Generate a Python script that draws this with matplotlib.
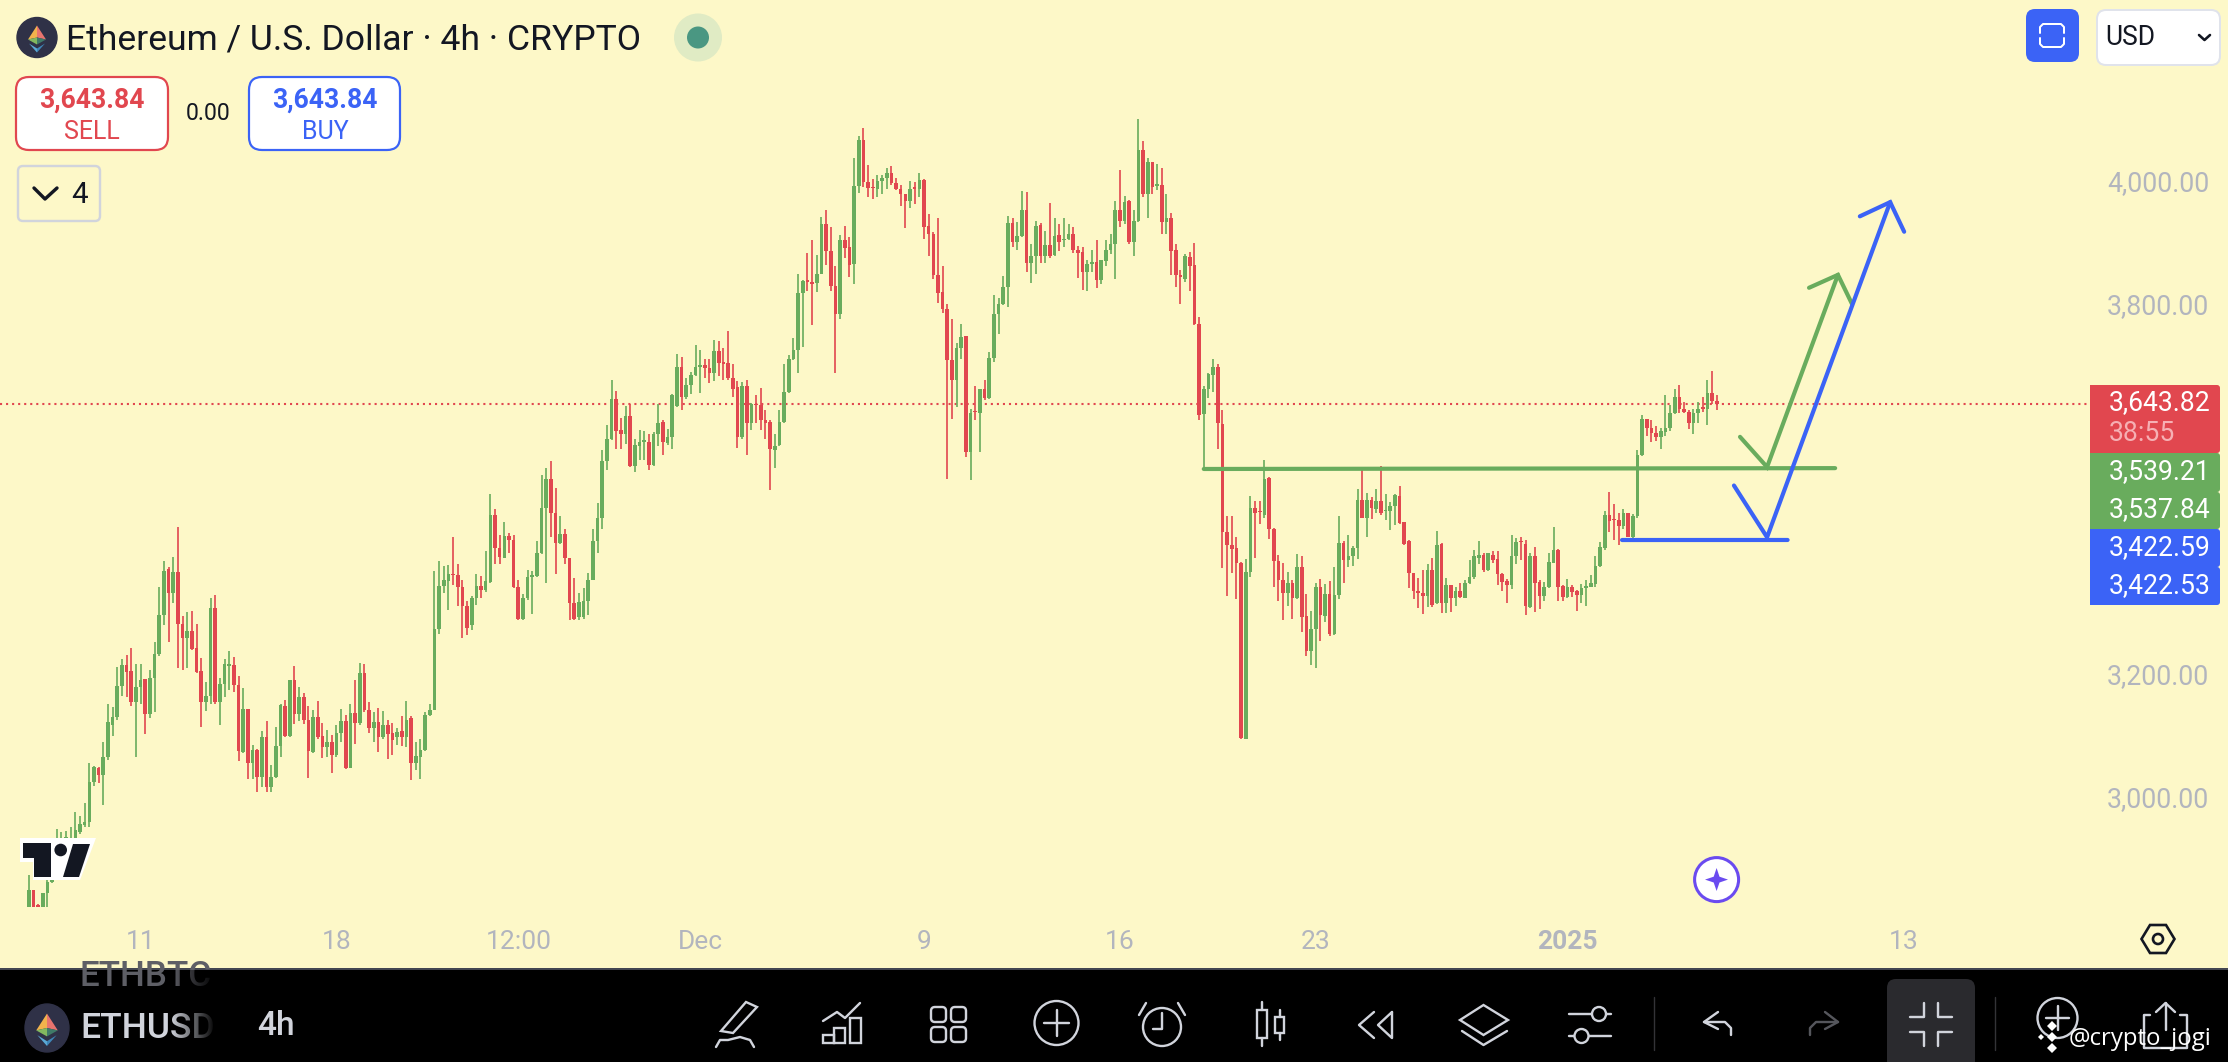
import numpy as np
import matplotlib
matplotlib.use("Agg")
import matplotlib.pyplot as plt
from matplotlib.patches import Circle, Ellipse, FancyBboxPatch, Polygon, Rectangle
from matplotlib.transforms import ScaledTranslation

plt.rcParams["font.family"] = ["Roboto", "DejaVu Sans"]

# 1. DATA - ETHUSD 4h candles
opens = [
    2827, 2854, 2830, 2827, 2849, 2868, 2898, 2930, 2930, 2935,
    2938, 2949, 2960, 2965, 3030, 3053, 3041, 3070, 3122, 3135,
    3185, 3219, 3210, 3160, 3184, 3197, 3140, 3198, 3237, 3301,
    3375, 3337, 3371, 3286, 3263, 3275, 3248, 3210, 3160, 3169,
    3312, 3160, 3189, 3218, 3219, 3187, 3079, 3148, 3060, 3081,
    3038, 3103, 3021, 3038, 3088, 3153, 3104, 3195, 3140, 3168,
    3131, 3079, 3135, 3104, 3086, 3095, 3073, 3110, 3129, 3053,
    3142, 3125, 3206, 3147, 3117, 3127, 3103, 3122, 3109, 3102,
    3113, 3102, 3133, 3060, 3071, 3081, 3138, 3147, 3278, 3348,
    3356, 3368, 3366, 3346, 3315, 3284, 3329, 3348, 3341, 3355,
    3463, 3410, 3394, 3429, 3423, 3347, 3295, 3328, 3363, 3364,
    3401, 3474, 3521, 3466, 3417, 3433, 3394, 3321, 3298, 3298,
    3324, 3358, 3421, 3458, 3551, 3586, 3651, 3601, 3594, 3624,
    3543, 3575, 3582, 3582, 3544, 3595, 3614, 3580, 3590, 3640,
    3703, 3654, 3674, 3690, 3704, 3707, 3702, 3693, 3729, 3710,
    3710, 3686, 3671, 3590, 3673, 3613, 3644, 3641, 3617, 3614,
    3569, 3577, 3614, 3663, 3716, 3731, 3823, 3844, 3841, 3839,
    3855, 3936, 3892, 3835, 3790, 3910, 3898, 3871, 3997, 4072,
    4003, 3995, 3992, 4005, 4011, 4018, 4002, 3992, 3984, 3973,
    3995, 3992, 4007, 3932, 3920, 3852, 3825, 3797, 3714, 3682,
    3735, 3753, 3566, 3632, 3629, 3667, 3653, 3718, 3790, 3805,
    3833, 3937, 3906, 3916, 3959, 3873, 3884, 3934, 3884, 3901,
    3885, 3917, 3909, 3911, 3920, 3893, 3890, 3858, 3871, 3874,
    3844, 3876, 3893, 3903, 3958, 3941, 3973, 3907, 3940, 4056,
    3985, 4036, 3998, 3999, 3939, 3946, 3893, 3852, 3847, 3882,
    3869, 3773, 3627, 3667, 3690, 3703, 3611, 3436, 3415, 3409,
    3386, 3100, 3370, 3474, 3470, 3463, 3523, 3441, 3389, 3358,
    3336, 3352, 3328, 3379, 3299, 3243, 3278, 3347, 3299, 3335,
    3270, 3333, 3418, 3390, 3396, 3409, 3488, 3459, 3488, 3473,
    3486, 3469, 3469, 3477, 3494, 3451, 3421, 3369, 3340, 3336,
    3332, 3374, 3320, 3416, 3320, 3350, 3328, 3340, 3329, 3352,
    3362, 3394, 3399, 3374, 3399, 3391, 3367, 3356, 3349, 3396,
    3420, 3416, 3314, 3396, 3355, 3332, 3346, 3386, 3407, 3348,
    3330, 3347, 3339, 3333, 3344, 3347, 3351, 3380, 3410, 3463,
    3457, 3455, 3446, 3466, 3428, 3461, 3560, 3619, 3604, 3596,
    3590, 3598, 3605, 3628, 3654, 3636, 3631, 3612, 3628, 3639,
    3635, 3662, 3649,
]
highs = [
    2879, 2855, 2831, 2850, 2870, 2898, 2954, 2948, 2950, 2956,
    2981, 2974, 2995, 3060, 3056, 3054, 3095, 3156, 3151, 3217,
    3229, 3236, 3248, 3222, 3221, 3197, 3211, 3257, 3347, 3389,
    3378, 3395, 3444, 3299, 3306, 3308, 3286, 3231, 3192, 3329,
    3334, 3199, 3229, 3243, 3233, 3202, 3183, 3148, 3090, 3083,
    3113, 3129, 3057, 3119, 3156, 3163, 3195, 3218, 3184, 3174,
    3153, 3146, 3162, 3126, 3114, 3106, 3122, 3148, 3138, 3156,
    3196, 3223, 3221, 3160, 3144, 3150, 3145, 3130, 3126, 3117,
    3137, 3162, 3137, 3095, 3100, 3144, 3156, 3373, 3389, 3380,
    3382, 3428, 3384, 3358, 3323, 3331, 3367, 3364, 3405, 3498,
    3473, 3431, 3452, 3434, 3431, 3358, 3335, 3374, 3373, 3421,
    3528, 3539, 3550, 3507, 3461, 3441, 3394, 3361, 3336, 3344,
    3369, 3441, 3483, 3568, 3609, 3682, 3664, 3620, 3640, 3644,
    3586, 3601, 3600, 3594, 3598, 3644, 3618, 3603, 3660, 3725,
    3719, 3685, 3696, 3739, 3731, 3717, 3717, 3747, 3745, 3734,
    3762, 3709, 3681, 3679, 3682, 3645, 3658, 3670, 3634, 3617,
    3594, 3633, 3708, 3723, 3751, 3855, 3845, 3888, 3909, 3885,
    3947, 3959, 3930, 3867, 3917, 3932, 3914, 4042, 4078, 4091,
    4031, 4008, 4015, 4015, 4026, 4030, 4011, 3999, 3984, 4006,
    4004, 4018, 4008, 3951, 3923, 3946, 3867, 3805, 3781, 3743,
    3774, 3754, 3635, 3673, 3667, 3682, 3728, 3821, 3815, 3851,
    3949, 3946, 3939, 3989, 3987, 3903, 3941, 3937, 3924, 3969,
    3946, 3935, 3945, 3935, 3931, 3900, 3898, 3877, 3894, 3910,
    3877, 3910, 3919, 3973, 4023, 3981, 3975, 3958, 4106, 4070,
    4042, 4037, 4033, 4026, 3985, 3953, 3903, 3861, 3887, 3890,
    3904, 3784, 3672, 3693, 3717, 3708, 3634, 3462, 3461, 3427,
    3387, 3392, 3494, 3486, 3486, 3552, 3525, 3442, 3398, 3386,
    3370, 3358, 3400, 3396, 3335, 3308, 3352, 3359, 3351, 3356,
    3379, 3462, 3421, 3430, 3413, 3505, 3536, 3499, 3493, 3505,
    3543, 3497, 3485, 3498, 3510, 3451, 3423, 3369, 3361, 3374,
    3384, 3393, 3437, 3418, 3361, 3350, 3347, 3352, 3358, 3390,
    3406, 3421, 3401, 3402, 3405, 3404, 3369, 3360, 3430, 3425,
    3427, 3423, 3402, 3412, 3358, 3355, 3402, 3443, 3408, 3350,
    3359, 3349, 3342, 3351, 3357, 3366, 3397, 3420, 3469, 3501,
    3481, 3466, 3473, 3467, 3464, 3569, 3626, 3619, 3617, 3608,
    3604, 3658, 3642, 3667, 3674, 3647, 3633, 3636, 3647, 3654,
    3682, 3697, 3658,
]
lows = [
    2827, 2827, 2827, 2827, 2827, 2865, 2892, 2920, 2925, 2925,
    2930, 2946, 2957, 2957, 3023, 3028, 2992, 3066, 3104, 3131,
    3169, 3168, 3153, 3071, 3157, 3107, 3133, 3144, 3235, 3284,
    3257, 3320, 3214, 3212, 3214, 3244, 3206, 3119, 3145, 3157,
    3157, 3122, 3167, 3179, 3176, 3063, 3076, 3034, 3034, 3014,
    3021, 3014, 3014, 3037, 3071, 3102, 3103, 3124, 3129, 3124,
    3037, 3076, 3100, 3068, 3071, 3044, 3070, 3095, 3050, 3052,
    3091, 3122, 3144, 3110, 3095, 3078, 3100, 3067, 3074, 3090,
    3088, 3086, 3033, 3049, 3034, 3080, 3137, 3146, 3270, 3336,
    3309, 3349, 3315, 3263, 3268, 3276, 3317, 3329, 3338, 3352,
    3383, 3383, 3393, 3402, 3344, 3293, 3293, 3325, 3303, 3363,
    3400, 3352, 3428, 3367, 3416, 3383, 3293, 3293, 3293, 3294,
    3301, 3357, 3401, 3440, 3537, 3585, 3570, 3571, 3579, 3541,
    3533, 3553, 3552, 3537, 3543, 3575, 3560, 3577, 3571, 3639,
    3634, 3652, 3659, 3689, 3661, 3685, 3678, 3681, 3689, 3682,
    3682, 3655, 3572, 3586, 3560, 3601, 3612, 3601, 3587, 3504,
    3540, 3575, 3613, 3661, 3714, 3693, 3736, 3827, 3772, 3825,
    3854, 3869, 3827, 3694, 3782, 3880, 3850, 3838, 3986, 3996,
    3979, 3976, 3980, 3984, 3992, 3999, 3991, 3964, 3929, 3961,
    3968, 3980, 3911, 3884, 3846, 3808, 3791, 3521, 3619, 3639,
    3716, 3558, 3520, 3617, 3565, 3650, 3652, 3712, 3757, 3804,
    3800, 3898, 3894, 3914, 3858, 3839, 3855, 3873, 3873, 3881,
    3884, 3891, 3898, 3909, 3889, 3848, 3829, 3827, 3857, 3832,
    3838, 3868, 3887, 3846, 3930, 3936, 3903, 3884, 3939, 3980,
    3946, 3985, 3991, 3919, 3920, 3852, 3834, 3806, 3842, 3826,
    3772, 3618, 3537, 3653, 3663, 3570, 3377, 3331, 3369, 3326,
    3100, 3099, 3363, 3393, 3448, 3459, 3424, 3347, 3324, 3293,
    3316, 3294, 3327, 3274, 3235, 3219, 3214, 3258, 3290, 3267,
    3269, 3327, 3353, 3378, 3381, 3391, 3458, 3428, 3456, 3467,
    3463, 3455, 3438, 3447, 3448, 3415, 3344, 3326, 3312, 3302,
    3313, 3314, 3319, 3304, 3304, 3306, 3316, 3328, 3328, 3351,
    3360, 3384, 3370, 3373, 3385, 3349, 3339, 3320, 3343, 3384,
    3390, 3301, 3312, 3305, 3310, 3323, 3345, 3385, 3324, 3324,
    3329, 3330, 3308, 3320, 3316, 3346, 3347, 3379, 3406, 3436,
    3423, 3415, 3440, 3427, 3420, 3458, 3559, 3591, 3581, 3583,
    3571, 3591, 3600, 3627, 3629, 3629, 3603, 3594, 3613, 3631,
    3609, 3643, 3633,
]
closes = [
    2854, 2827, 2827, 2849, 2868, 2881, 2930, 2938, 2940, 2938,
    2951, 2962, 2965, 3030, 3054, 3041, 3071, 3127, 3136, 3185,
    3219, 3209, 3160, 3184, 3195, 3140, 3198, 3237, 3301, 3373,
    3337, 3371, 3286, 3263, 3275, 3245, 3208, 3160, 3169, 3312,
    3160, 3189, 3221, 3222, 3187, 3080, 3148, 3060, 3081, 3038,
    3103, 3021, 3038, 3088, 3155, 3104, 3195, 3140, 3168, 3131,
    3080, 3135, 3103, 3087, 3095, 3073, 3109, 3129, 3052, 3142,
    3125, 3207, 3146, 3117, 3127, 3103, 3122, 3107, 3098, 3111,
    3103, 3131, 3060, 3072, 3081, 3138, 3147, 3278, 3348, 3358,
    3367, 3366, 3346, 3315, 3280, 3329, 3348, 3342, 3356, 3463,
    3410, 3395, 3429, 3423, 3346, 3294, 3328, 3363, 3366, 3401,
    3474, 3521, 3466, 3417, 3433, 3394, 3321, 3294, 3322, 3324,
    3358, 3421, 3458, 3551, 3586, 3651, 3600, 3594, 3624, 3543,
    3577, 3582, 3585, 3544, 3595, 3613, 3582, 3590, 3658, 3703,
    3654, 3674, 3690, 3704, 3707, 3702, 3693, 3729, 3710, 3709,
    3686, 3668, 3590, 3673, 3613, 3644, 3641, 3617, 3613, 3571,
    3575, 3614, 3663, 3716, 3731, 3823, 3843, 3842, 3838, 3855,
    3936, 3892, 3835, 3790, 3910, 3897, 3869, 3997, 4072, 4003,
    3994, 3994, 4005, 4011, 4018, 4002, 3992, 3984, 3973, 3993,
    3993, 4007, 3931, 3920, 3852, 3824, 3797, 3714, 3682, 3735,
    3752, 3566, 3629, 3630, 3667, 3653, 3718, 3790, 3805, 3833,
    3937, 3906, 3916, 3959, 3873, 3884, 3933, 3884, 3901, 3884,
    3916, 3907, 3911, 3920, 3893, 3889, 3858, 3871, 3874, 3844,
    3877, 3893, 3903, 3958, 3941, 3972, 3907, 3940, 4056, 3985,
    4037, 3995, 4000, 3939, 3946, 3892, 3852, 3850, 3883, 3868,
    3773, 3626, 3667, 3692, 3703, 3612, 3436, 3415, 3408, 3386,
    3101, 3370, 3474, 3467, 3468, 3522, 3440, 3389, 3358, 3336,
    3353, 3328, 3379, 3298, 3243, 3278, 3347, 3301, 3335, 3270,
    3333, 3418, 3390, 3397, 3410, 3488, 3459, 3488, 3474, 3486,
    3466, 3471, 3478, 3496, 3450, 3416, 3369, 3339, 3336, 3332,
    3374, 3317, 3415, 3320, 3350, 3328, 3340, 3330, 3352, 3362,
    3396, 3398, 3374, 3401, 3390, 3367, 3355, 3349, 3397, 3420,
    3419, 3316, 3396, 3353, 3332, 3346, 3387, 3406, 3347, 3330,
    3346, 3338, 3333, 3344, 3348, 3352, 3380, 3412, 3463, 3454,
    3455, 3446, 3466, 3428, 3462, 3561, 3619, 3604, 3596, 3590,
    3600, 3605, 3628, 3654, 3636, 3630, 3612, 3628, 3636, 3636,
    3662, 3649, 3644,
]

# osa x = index svicky (6 svicek na den)
date_ticks = [24, 66, 105, 144, 192, 234, 276, 330, 402]
date_labels = ["11", "18", "12:00", "Dec", "9", "16", "23", "2025", "13"]
price_ticks = [3000, 3200, 3800, 4000]
price_tick_labels = ["3,000.00", "3,200.00", "3,800.00", "4,000.00"]

last_price = 3643.82
green_level_x = [252, 387.4]
green_level_y = [3537.84, 3539.21]
blue_level_x = [341.7, 377.2]
blue_level_y = [3422.53, 3422.59]
blue_path_x = [365.7, 372.8, 399.2]
blue_path_y = [3511, 3427, 3971]
blue_head_x = [392.7, 399.2, 402.2]
blue_head_y = [3948, 3971, 3923]
green_path_x = [367, 372.8, 388]
green_path_y = [3590, 3541, 3853]
green_head_x = [381.8, 388, 391]
green_head_y = [3832, 3853, 3806]

tag_labels = ["3,643.82", "3,539.21", "3,537.84", "3,422.59", "3,422.53"]

BG = "#FDF8C8"
GREEN = "#69AC5D"
RED = "#E1474F"
BLUE = "#3B63F6"
INK = "#131722"
GREY = "#B2B5BE"
ICON = "#D1D4DC"

W, H = 2228, 1062
CHART_H = 968

fig = plt.figure(figsize=(W / 100, H / 100), dpi=100, facecolor="black")

# 2. CANDLES
ax = fig.add_axes([0, 1 - CHART_H / H, 1, CHART_H / H], facecolor=BG)
x_px0, x_step = 28.7, 4.663
ax.set_xlim(-x_px0 / x_step, (W - x_px0) / x_step)
ax.set_ylim(last_price - (CHART_H - 403.7) / 0.616, last_price + 403.7 / 0.616)

o = np.array(opens)
h = np.array(highs)
l = np.array(lows)
c = np.array(closes)
idx = np.arange(len(o))
up = c >= o
cols = np.where(up, GREEN, RED)

ax.axhline(last_price, xmin=0, xmax=2090 / W, color=RED, lw=1.5,
           linestyle=(0, (1, 1.9)), zorder=1)
ax.vlines(idx, l, h, colors=cols, lw=1.2, zorder=2)
ax.bar(idx, np.maximum(np.abs(c - o), 2), bottom=np.minimum(o, c), width=0.78,
       color=cols, linewidth=0, zorder=3)

# rucne kreslene cary a sipky
line_kw = dict(lw=3.0, solid_capstyle="round", solid_joinstyle="miter", zorder=4)
ax.plot(green_level_x, green_level_y, color=GREEN, **line_kw)
ax.plot(green_path_x, green_path_y, color=GREEN, **line_kw)
ax.plot(green_head_x, green_head_y, color=GREEN, **line_kw)
ax.plot(blue_level_x, blue_level_y, color=BLUE, **line_kw)
ax.plot(blue_path_x, blue_path_y, color=BLUE, **line_kw)
ax.plot(blue_head_x, blue_head_y, color=BLUE, **line_kw)

for s in ax.spines.values():
    s.set_visible(False)
ax.set_xticks(date_ticks, date_labels)
ax.tick_params(axis="x", length=0, pad=-27.5, labelsize=19, labelcolor=GREY)
for t, lab in zip(ax.get_xticklabels(), date_labels):
    if lab == "2025":
        t.set_fontweight("bold")
ax.yaxis.tick_right()
ax.set_yticks(price_ticks, price_tick_labels)
ax.tick_params(axis="y", length=0, pad=-87, labelsize=19.2, labelcolor=GREY)
shift = ScaledTranslation(0, 3.5 / 100, fig.dpi_scale_trans)
for t in ax.get_yticklabels():
    t.set_transform(t.get_transform() + shift)

# 3. UI LAYER in pixels
ui = fig.add_axes([0, 0, 1, 1], facecolor="none")
ui.set_xlim(0, W)
ui.set_ylim(H, 0)
ui.axis("off")


def label(x, cy, s, em, color=INK, ha="left", weight="normal", **kw):
    # em v pixelech, cy = stred velkych pismen
    return ui.text(x, cy + 0.355 * em, s, fontsize=em * 0.72, color=color, ha=ha,
                   va="baseline", fontweight=weight, **kw)


def box(x0, y0, x1, y1, r, face, edge="none", lw=0, z=5):
    p = FancyBboxPatch((x0, y0), x1 - x0, y1 - y0, boxstyle=f"round,pad=0,rounding_size={r}",
                       facecolor=face, edgecolor=edge, linewidth=lw * 0.72, zorder=z)
    ui.add_patch(p)
    return p


def stroke(xs, ys, color=ICON, lw=2.4, z=8):
    ui.plot(xs, ys, color=color, lw=lw * 0.72, solid_capstyle="round",
            solid_joinstyle="round", zorder=z)


def eth_logo(cx, cy, rx, ry):
    ui.add_patch(Ellipse((cx, cy), 2 * rx, 2 * ry, color="#2F3147", zorder=6))
    k = ry / 20
    parts = [
        ([(0, -12), (-9, 2), (0, 0)], "#F2B34C"),
        ([(0, -12), (9, 2), (0, 0)], "#E8746E"),
        ([(-9, 2), (0, 0), (0, 7)], "#83B85F"),
        ([(9, 2), (0, 0), (0, 7)], "#3F7A68"),
        ([(-8, 6), (0, 11), (0, 15)], "#5AA9D6"),
        ([(8, 6), (0, 11), (0, 15)], "#3F86B8"),
    ]
    for pts, col in parts:
        ui.add_patch(Polygon([(cx + a * k, cy + b * k) for a, b in pts], color=col, lw=0, zorder=7))


# hlavicka
eth_logo(37, 37.5, 20, 20)
label(66, 37, "Ethereum / U.S. Dollar · 4h · CRYPTO", 35.5)
ui.add_patch(Circle((698, 37.5), 24, color="#E0EBC4", lw=0, zorder=5))
ui.add_patch(Circle((698, 37.5), 11, color="#4A9782", lw=0, zorder=6))

box(16, 77, 168, 150, 13, "white", RED, 2.2)
label(92, 98, "3,643.84", 26.5, RED, "center", "bold", zorder=6)
label(92, 130, "SELL", 25, RED, "center", zorder=6)
label(208, 112, "0.00", 23, INK, "center")
box(249, 77, 400, 150, 13, "white", BLUE, 2.2)
label(325, 98, "3,643.84", 26.5, BLUE, "center", "bold", zorder=6)
label(325, 130, "BUY", 25, BLUE, "center", zorder=6)

box(18, 166, 100, 221, 5, BG, "#D1D4DC", 2.4)
stroke([34, 45, 57], [188, 199, 188], INK, 3.4)
label(80, 193, "4", 29.5, INK, "center", zorder=6)

# vpravo nahore
box(2026, 9, 2079, 62, 9, BLUE)
for xs, ys in [([2040, 2040, 2043, 2061, 2064, 2064], [33, 27, 24, 24, 27, 33]),
               ([2040, 2040, 2043, 2061, 2064, 2064], [38, 44, 47, 47, 44, 38])]:
    stroke(xs, ys, "white", 2)
box(2097, 10, 2220, 65, 9, "white", "#E0E3EB", 2)
label(2105, 36, "USD", 26.5, INK, zorder=6)
stroke([2199, 2204.5, 2210], [35, 40, 35], INK, 2.6)

# cenove stitky
tag_colors = [RED, GREEN, GREEN, BLUE, BLUE]
tag_tops = [385, 453, 492, 529, 567]
tag_bottoms = [453, 492, 529, 567, 605]
tag_centers = [401, 470, 508, 546, 584]
for lab, col, y0, y1, cy in zip(tag_labels, tag_colors, tag_tops, tag_bottoms, tag_centers):
    ui.add_patch(FancyBboxPatch((2090, y0), 130, y1 - y0, boxstyle="round,pad=0,rounding_size=3",
                                facecolor=col, edgecolor="none", zorder=5))
    ui.add_patch(Rectangle((2090, y0), 8, y1 - y0, facecolor=col, edgecolor="none", zorder=5))
    label(2109, cy, lab, 26.5, "white", zorder=6)
label(2109, 432, "38:55", 26.5, "#F6B0B4", zorder=6)

# TV logo
ui.add_patch(Polygon([(20, 838), (96, 838), (80, 880), (33, 880), (33, 862), (20, 862)],
                     color="white", lw=0, zorder=6))
ui.add_patch(Polygon([(23, 843), (51, 843), (51, 877), (34, 877), (34, 858), (23, 858)],
                     color=INK, lw=0, zorder=7))
ui.add_patch(Circle((60.7, 850), 6.3, color=INK, lw=0, zorder=7))
ui.add_patch(Polygon([(73, 844), (90, 844), (79, 877), (63, 877)], color=INK, lw=0, zorder=7))

# fialova ikona
ui.add_patch(Circle((1716.6, 879.6), 22, facecolor="white", edgecolor="#6A4BF0", lw=2.2, zorder=6))
star = [(1716.6, 868), (1719.5, 876.7), (1728, 879.6), (1719.5, 882.5), (1716.6, 891),
        (1713.7, 882.5), (1705, 879.6), (1713.7, 876.7)]
ui.add_patch(Polygon(star, color="#6A4BF0", lw=0, zorder=7))

# sestiuhelnik nastaveni
hexa = [(2141.5, 939), (2150, 925), (2166, 925), (2174.5, 939), (2166, 953), (2150, 953)]
ui.add_patch(Polygon(hexa, facecolor="none", edgecolor=INK, lw=1.9, zorder=7))
ui.add_patch(Circle((2158, 939), 5, facecolor="none", edgecolor=INK, lw=1.9, zorder=7))

# 4. SPODNI LISTA
ui.add_patch(Rectangle((0, 968), W, 2, color="#434651", lw=0, zorder=5))
t = label(80, 974, "ETHBTC", 35, "#5E5F66", weight="medium", zorder=6)
t.set_clip_path(Rectangle((0, 970), W, 20, transform=ui.transData))
eth_logo(47, 1028, 22, 24)
label(80, 1025, "ETHUSD", 35.5, ICON, weight="medium", zorder=6)
fade = np.zeros((1, 64, 4))
fade[0, :, 3] = np.linspace(0, 1, 64)
ui.imshow(fade, extent=(170, 216, 1062, 970), aspect="auto", zorder=7)
ui.set_xlim(0, W)
ui.set_ylim(H, 0)
label(276, 1023, "4h", 33.5, ICON, "center", "medium", zorder=6)

# tuzka
ui.add_patch(Polygon([(721, 1031), (746, 1002), (757, 1007), (733, 1033)], facecolor="none",
                     edgecolor=ICON, lw=1.7, zorder=8))
stroke([716, 720, 728, 740, 750, 754], [1047, 1040, 1040, 1037, 1040, 1047])
# indikatory
stroke([823, 837, 845, 860], [1021, 1012, 1018, 1003])
for x0, top in [(823, 1035), (834, 1028), (850, 1018)]:
    ui.add_patch(Rectangle((x0, top), 11, 1043 - top, facecolor="none", edgecolor=ICON, lw=1.7, zorder=8))
# mrizka
for x0 in (931, 951):
    for y0 in (1007, 1027):
        box(x0, y0, x0 + 15, y0 + 15, 4, "none", ICON, 2.4, z=8)
# plus
ui.add_patch(Circle((1056.5, 1023), 22, facecolor="none", edgecolor=ICON, lw=1.7, zorder=8))
stroke([1044, 1069], [1023, 1023])
stroke([1056.5, 1056.5], [1010, 1036])
# budik
ui.add_patch(Circle((1162, 1027), 19, facecolor="none", edgecolor=ICON, lw=1.7, zorder=8))
stroke([1162, 1162, 1153], [1013, 1029, 1029])
stroke([1139, 1146], [1015, 1003])
stroke([1185, 1178], [1015, 1003])
# svicky
ui.add_patch(Rectangle((1257, 1010), 10, 28, facecolor="none", edgecolor=ICON, lw=1.7, zorder=8))
ui.add_patch(Rectangle((1275, 1017), 9, 16, facecolor="none", edgecolor=ICON, lw=1.7, zorder=8))
stroke([1262, 1262], [1002, 1010])
stroke([1262, 1262], [1038, 1046])
stroke([1279.5, 1279.5], [1010, 1017])
stroke([1279.5, 1279.5], [1033, 1040])
# pretaceni
stroke([1374, 1359, 1374], [1012, 1025, 1038])
stroke([1392, 1378, 1392, 1392], [1012, 1025, 1038, 1012])
# vrstvy
ui.add_patch(Polygon([(1483.5, 1005), (1508, 1020), (1483.5, 1035), (1460, 1020)], facecolor="none",
                     edgecolor=ICON, lw=1.7, zorder=8))
stroke([1462, 1483.5, 1507], [1031, 1045, 1031])
# posuvniky
stroke([1569, 1611], [1014, 1014])
stroke([1569, 1611], [1036, 1036])
ui.add_patch(Circle((1599, 1014), 7, facecolor="black", edgecolor=ICON, lw=1.7, zorder=9))
ui.add_patch(Circle((1581.5, 1036), 7, facecolor="black", edgecolor=ICON, lw=1.7, zorder=9))
# oddelovace
stroke([1654, 1654], [997, 1050], "#333337", 1.4)
stroke([1995, 1995], [997, 1050], "#333337", 1.4)
# zpet / vpred
stroke([1731, 1731, 1725, 1704], [1035, 1028, 1022, 1022])
stroke([1718, 1704, 1718], [1012, 1022, 1029])
stroke([1810, 1810, 1816, 1838], [1035, 1028, 1022, 1022], "#55565C")
stroke([1825, 1838, 1825], [1012, 1022, 1029], "#55565C")
# tlacitko fullscreen
box(1887, 979, 1975, 1075, 9, "#2A2A2E")
for xs, ys in [([1924, 1924, 1910], [1003, 1017, 1017]), ([1938, 1938, 1952], [1003, 1017, 1017]),
               ([1910, 1924, 1924], [1032, 1032, 1046]), ([1952, 1938, 1938], [1032, 1032, 1046])]:
    stroke(xs, ys)
# plus 2 a sdileni
ui.add_patch(Circle((2057.5, 1018), 20, facecolor="none", edgecolor=ICON, lw=1.7, zorder=8))
stroke([2046, 2069], [1018, 1018])
stroke([2057.5, 2057.5], [1006, 1030])
stroke([2150, 2144, 2144, 2187, 2187, 2180], [1015, 1015, 1048, 1048, 1015, 1015])
stroke([2165.5, 2165.5], [1003, 1030])
stroke([2156, 2165.5, 2175], [1012, 1003, 1012])

# vodotisk
for cx, cy, r in [(2052, 1026, 5), (2052, 1048, 5), (2041, 1037, 3), (2052, 1037, 5)]:
    ui.add_patch(Polygon([(cx, cy - r), (cx + r, cy), (cx, cy + r), (cx - r, cy)], color="white", lw=0, zorder=10))
label(2069, 1036, "@crypto_jogi", 24, "white", zorder=10,
      family=["Open Sans", "DejaVu Sans"])

fig.savefig("out.png", dpi=100, facecolor="black")
